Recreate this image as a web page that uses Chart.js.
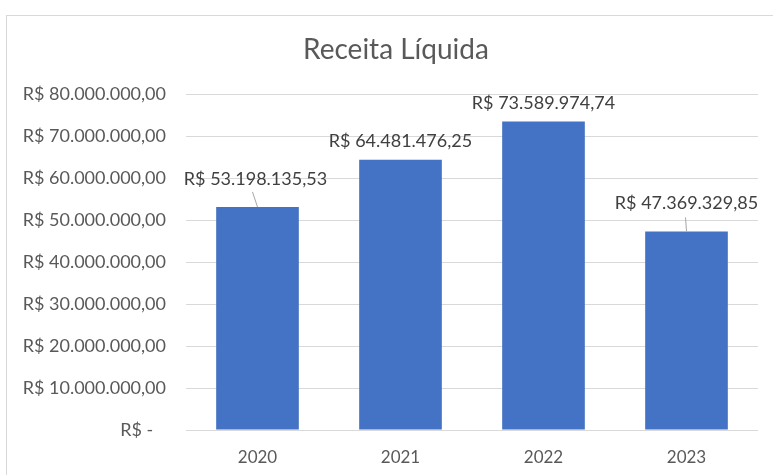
<!DOCTYPE html>
<html>
<head>
<meta charset="utf-8">
<script src="https://cdn.jsdelivr.net/npm/chart.js@4/dist/chart.umd.min.js"></script>
<style>
  html, body { margin: 0; padding: 0; background: #ffffff; }
  #wrap { position: relative; width: 773px; height: 475px; }
</style>
</head>
<body>
<div id="wrap"><canvas id="c" width="773" height="475"></canvas></div>
<script>
const categories = ['2020', '2021', '2022', '2023'];
const receitaLiquida = [53198135.53, 64481476.25, 73589974.74, 47369329.85];
const dataLabels = ['R$ 53.198.135,53', 'R$ 64.481.476,25', 'R$ 73.589.974,74', 'R$ 47.369.329,85'];
const yTickLabels = [
  'R$ -\u2007\u2009',
  'R$ 10.000.000,00',
  'R$ 20.000.000,00',
  'R$ 30.000.000,00',
  'R$ 40.000.000,00',
  'R$ 50.000.000,00',
  'R$ 60.000.000,00',
  'R$ 70.000.000,00',
  'R$ 80.000.000,00'
];
const chartTitle = 'Receita Líquida';

const FONT = 'Lato';

const framePlugin = {
  id: 'frame',
  beforeDraw(chart) {
    const ctx = chart.ctx;
    ctx.save();
    ctx.fillStyle = '#ffffff';
    ctx.fillRect(0, 0, chart.width, chart.height);
    ctx.strokeStyle = '#d9d9d9';
    ctx.lineWidth = 1;
    ctx.strokeRect(6.5, 15.5, chart.width + 20, chart.height + 20);
    ctx.restore();
  }
};

const labelPlugin = {
  id: 'barLabels',
  afterDatasetsDraw(chart, args, opts) {
    const ctx = chart.ctx;
    const meta = chart.getDatasetMeta(0);
    ctx.save();
    ctx.font = opts.size + 'px ' + FONT;
    ctx.fillStyle = opts.color;
    ctx.textAlign = 'center';
    ctx.textBaseline = 'middle';
    meta.data.forEach((bar, i) => {
      const off = opts.offsets[i];
      const dx = opts.dx[i];
      ctx.fillText(dataLabels[i], bar.x + dx, bar.y - off);
      if (opts.leaders[i]) {
        ctx.beginPath();
        ctx.strokeStyle = '#a6a6a6';
        ctx.lineWidth = 1;
        ctx.moveTo(bar.x + opts.leaders[i][0], bar.y - opts.leaders[i][1]);
        ctx.lineTo(bar.x, bar.y);
        ctx.stroke();
      }
    });
    ctx.restore();
  }
};

new Chart(document.getElementById('c'), {
  type: 'bar',
  data: {
    labels: categories,
    datasets: [{
      data: receitaLiquida,
      backgroundColor: '#4472C4',
      borderWidth: 0,
      categoryPercentage: 0.578,
      barPercentage: 1
    }]
  },
  options: {
    responsive: false,
    animation: false,
    layout: { padding: { left: 22, right: 3, top: 0, bottom: 0 } },
    plugins: {
      legend: { display: false },
      tooltip: { enabled: false },
      title: {
        display: true,
        text: chartTitle,
        color: '#595959',
        font: { family: FONT, size: 28, weight: 'normal' },
        padding: { top: 33, bottom: 28 }
      },
      barLabels: {
        size: 18,
        color: '#404040',
        offsets: [28, 18, 18, 28],
        dx: [-2, 0, 0, 0],
        leaders: [[-5, 15], null, null, [-1, 14]]
      }
    },
    scales: {
      x: {
        grid: { display: false, drawTicks: false },
        border: { display: false },
        ticks: {
          color: '#595959',
          font: { family: FONT, size: 17 },
          padding: 17
        },
        afterFit(scale) { scale.height = 45; }
      },
      y: {
        min: 0,
        max: 80000000,
        grid: { color: '#d9d9d9', lineWidth: 1, drawTicks: false },
        border: { display: false },
        ticks: {
          stepSize: 10000000,
          color: '#595959',
          font: { family: FONT, size: 18 },
          padding: 20,
          callback: (v, i) => yTickLabels[i]
        },
        afterFit(scale) { scale.width = 164; }
      },
      yPad: {
        position: 'right',
        display: true,
        grid: { display: false, drawTicks: false },
        border: { display: false },
        ticks: { display: false },
        afterFit(scale) { scale.width = 12; }
      }
    }
  },
  plugins: [framePlugin, labelPlugin]
});
</script>
</body>
</html>
